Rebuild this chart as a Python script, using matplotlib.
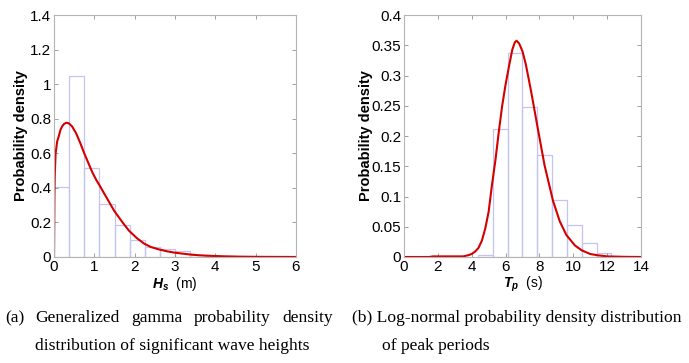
import matplotlib
matplotlib.use("Agg")
import matplotlib.pyplot as plt
import numpy as np

# histogram of significant wave height (bin edges, densities)
hs_edges = [0, 0.375, 0.75, 1.125, 1.5, 1.875, 2.25, 2.625, 3.0, 3.375, 3.75, 4.125, 4.5]
hs_density = [0.405, 1.05, 0.512, 0.305, 0.183, 0.097, 0.06, 0.045, 0.033, 0.012, 0.005, 0.002]

# fitted generalized gamma pdf
hs_x = [0, 0.01, 0.02, 0.04, 0.08, 0.12, 0.16, 0.2, 0.25, 0.31, 0.37, 0.45, 0.55, 0.65,
        0.75, 0.85, 0.95, 1.05, 1.12, 1.3, 1.49, 1.7, 1.86, 2.05, 2.23, 2.4, 2.6, 2.8,
        2.97, 3.2, 3.35, 3.6, 3.85, 4.2, 4.6, 5.0, 5.5, 6.0]
hs_pdf = [0, 0.35, 0.48, 0.6, 0.67, 0.7, 0.735, 0.755, 0.77, 0.777, 0.773, 0.755, 0.715, 0.66,
          0.6, 0.545, 0.49, 0.445, 0.418, 0.345, 0.268, 0.2, 0.152, 0.11, 0.078, 0.058, 0.044, 0.033,
          0.026, 0.019, 0.015, 0.01, 0.007, 0.004, 0.002, 0.001, 0.0005, 0.0002]

# histogram of peak period
tp_edges = [4.375, 5.25, 6.125, 7.0, 7.875, 8.75, 9.625, 10.5, 11.375, 12.25]
tp_density = [0.004, 0.212, 0.338, 0.248, 0.168, 0.094, 0.0535, 0.0237, 0.007]

# fitted log-normal pdf
tp_x = [0, 1.5, 1.7, 3.0, 3.5, 3.8, 4.0, 4.2, 4.4, 4.6, 4.8, 5.0, 5.2, 5.4, 5.6, 5.8, 6.0, 6.2,
        6.4, 6.55, 6.65, 6.8, 7.0, 7.2, 7.5, 7.9, 8.3, 8.8, 9.2, 9.6, 10.1, 10.5, 11.0, 11.4,
        12.0, 13.0, 14.0]
tp_pdf = [0, 0, 0.001, 0.001, 0.001, 0.003, 0.005, 0.009, 0.015, 0.027, 0.047, 0.075, 0.12, 0.16,
          0.207, 0.25, 0.285, 0.315, 0.343, 0.355, 0.3575, 0.353, 0.34, 0.318, 0.275, 0.213,
          0.152, 0.093, 0.059, 0.036, 0.019, 0.011, 0.005, 0.003, 0.001, 0.0003, 0]

caption_a = ['(a) Generalized gamma probability density',
             'distribution of significant wave heights']
caption_b = ['(b) Log-normal probability density distribution',
             'of peak periods']

NARROW = ['Liberation Sans Narrow', 'DejaVu Sans Condensed', 'Liberation Sans', 'DejaVu Sans']
plt.rcParams['mathtext.fontset'] = 'custom'
plt.rcParams['mathtext.bf'] = 'Liberation Sans:bold:italic'

fig = plt.figure(figsize=(6.89, 3.63), dpi=100)
W, H = 689.0, 363.0


def fmt(v):
    s = ('%.2f' % v).rstrip('0').rstrip('.')
    return s if s else '0'


def setup_axes(ax, xlim, ylim, xticks, yticks, ylab_x):
    ax.set_xlim(*xlim)
    ax.set_ylim(*ylim)
    ax.set_xticks(xticks)
    ax.set_yticks(yticks)
    ax.set_xticklabels([str(t) for t in xticks], family=NARROW, fontsize=11)
    ax.set_yticklabels([fmt(t) for t in yticks], family=NARROW, fontsize=11)
    for s in ax.spines.values():
        s.set_color('#b4b4b4')
        s.set_linewidth(0.8)
    ax.tick_params(direction='in', length=3, width=0.6, color='#909090',
                   top=True, right=True, pad=2)
    ax.set_ylabel('Probability density', family=['Liberation Sans', 'DejaVu Sans'],
                  fontweight='bold', fontsize=10.5)
    ax.yaxis.set_label_coords(ylab_x, 0.5)


edge_col = '#c4c4f0'
red = '#d40000'

ax1 = fig.add_axes([54 / W, 1 - 257 / H, 242 / W, 242 / H])
ax1.bar(hs_edges[:-1], hs_density, width=np.diff(hs_edges), align='edge',
        fill=False, edgecolor=edge_col, linewidth=0.9)
ax1.plot(hs_x, hs_pdf, color=red, linewidth=1.5)
setup_axes(ax1, (0, 6), (0, 1.4), list(range(0, 7)),
           [0, 0.2, 0.4, 0.6, 0.8, 1, 1.2, 1.4], (28 - 54) / 242)
ax1.set_xlabel(r'$\mathbf{H_s}$' + '  (m)', family=NARROW, fontsize=10, labelpad=1)

ax2 = fig.add_axes([404 / W, 1 - 257 / H, 237 / W, 242 / H])
ax2.bar(tp_edges[:-1], tp_density, width=np.diff(tp_edges), align='edge',
        fill=False, edgecolor=edge_col, linewidth=0.9)
ax2.plot(tp_x, tp_pdf, color=red, linewidth=1.5)
setup_axes(ax2, (0, 14), (0, 0.4), list(range(0, 15, 2)),
           [0, 0.05, 0.1, 0.15, 0.2, 0.25, 0.3, 0.35, 0.4], (373 - 404) / 237)
ax2.set_xlabel(r'$\mathbf{T_p}$' + '  (s)', family=NARROW, fontsize=10, labelpad=1)

# captions
serif = 'Liberation Serif'
cap_size = 12.6
y1 = 1 - 322 / H
y2 = 1 - 350 / H

# first line of (a) is justified between x=5 and x=333 px
renderer = fig.canvas.get_renderer()
words = caption_a[0].split()
items = [fig.text(0, y1, w, family=serif, fontsize=cap_size, ha='left', va='baseline')
         for w in words]
widths = [t.get_window_extent(renderer).width for t in items]
gap = (333 - 5 - sum(widths)) / (len(words) - 1)
x = 5.0
for t, w in zip(items, widths):
    t.set_x(x / W)
    x += w + gap

fig.text(35 / W, y2, caption_a[1], family=serif, fontsize=cap_size, ha='left', va='baseline')
fig.text(352 / W, y1, caption_b[0], family=serif, fontsize=cap_size, ha='left', va='baseline')
fig.text(382 / W, y2, caption_b[1], family=serif, fontsize=cap_size, ha='left', va='baseline')

fig.savefig('out.png', dpi=100)
